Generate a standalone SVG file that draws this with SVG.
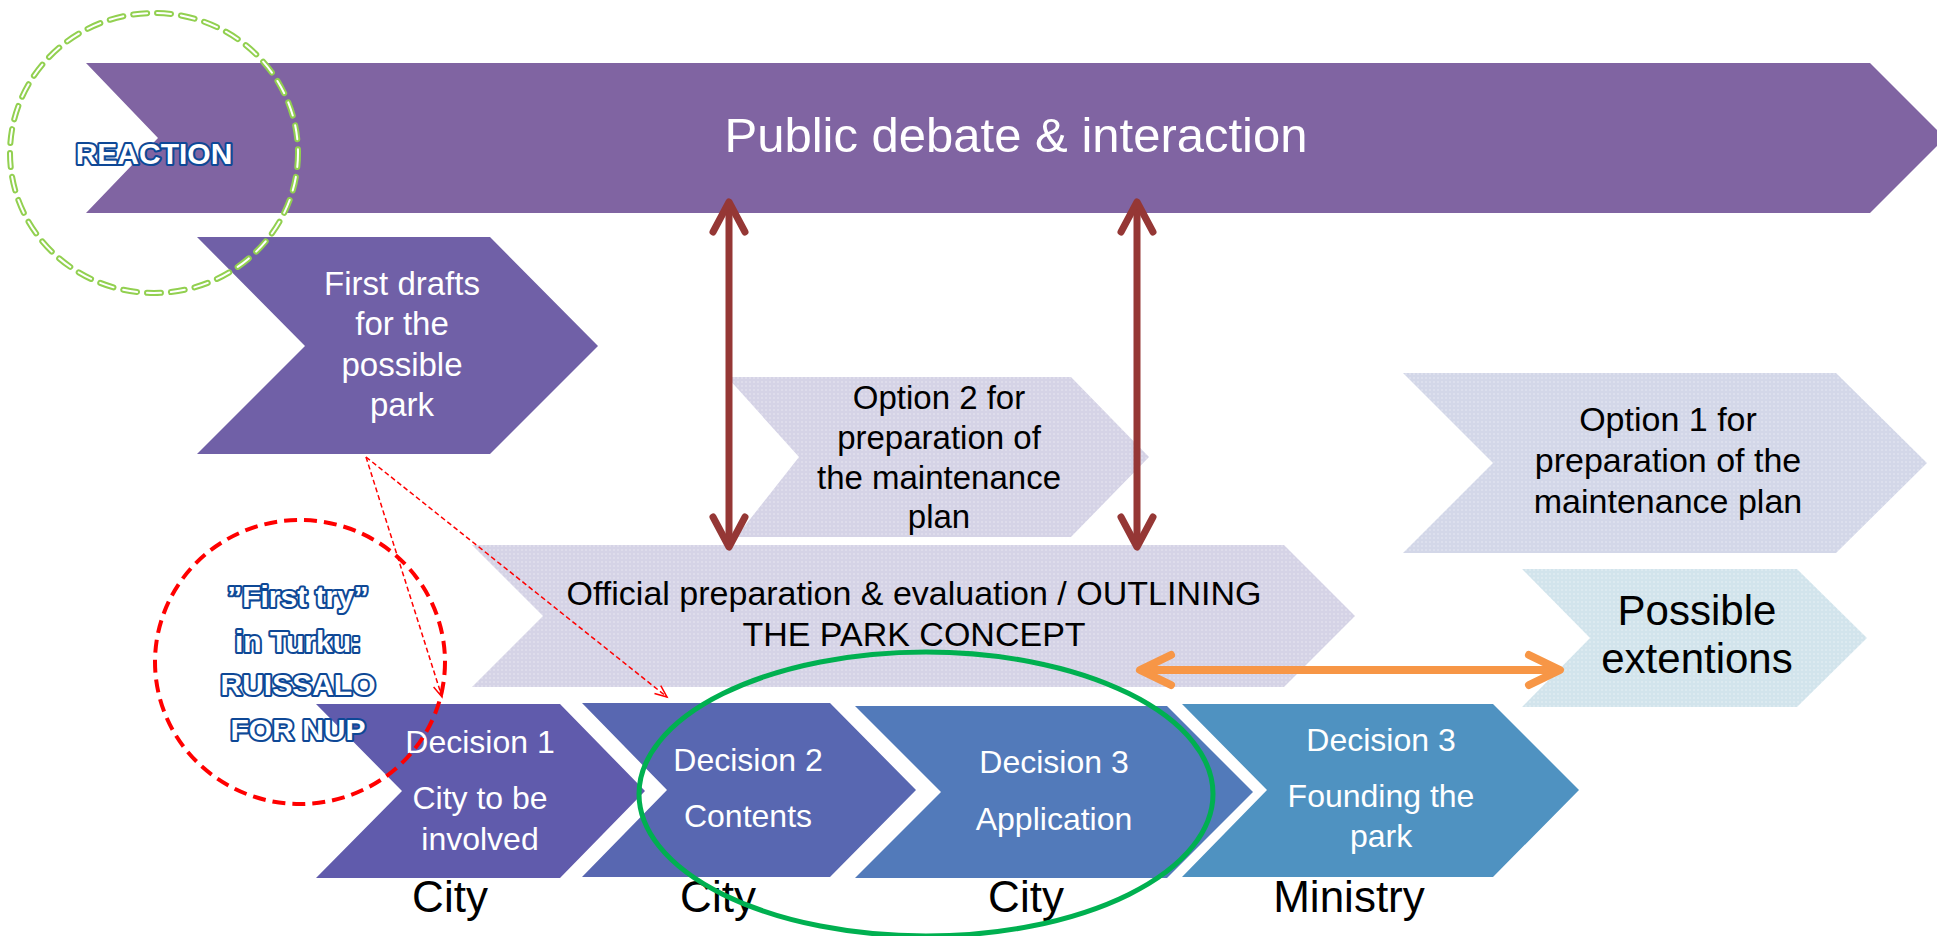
<svg xmlns="http://www.w3.org/2000/svg" width="1937" height="936" viewBox="0 0 1937 936">
<defs>
<style>
.t{font-family:"Liberation Sans",Arial,sans-serif;text-anchor:middle}
.w{fill:#FFFFFF}
.k{fill:#000000}
.o{font-family:"Liberation Sans",Arial,sans-serif;font-weight:bold;text-anchor:middle;fill:#FFFFFF;stroke:#0E4896;stroke-width:4.2;paint-order:stroke;stroke-linejoin:round}
.dr{stroke:#953735;stroke-width:7;fill:none}
.or{stroke:#F79646;stroke-width:8;fill:none}
.rd{stroke:#FF0000;stroke-width:1.5;fill:none;stroke-dasharray:5 3}
</style>
<pattern id="pLav" width="4" height="4" patternUnits="userSpaceOnUse"><rect width="4" height="4" fill="#D5D3E6"/><circle cx="2" cy="2" r="0.8" fill="#EAE9F3"/></pattern>
<pattern id="pBlu" width="4" height="4" patternUnits="userSpaceOnUse"><rect width="4" height="4" fill="#D3D7E8"/><circle cx="2" cy="2" r="0.8" fill="#E9EBF4"/></pattern>
<pattern id="pCya" width="4" height="4" patternUnits="userSpaceOnUse"><rect width="4" height="4" fill="#D2E4EC"/><circle cx="2" cy="2" r="0.8" fill="#E9F2F6"/></pattern>
<marker id="mDr" markerUnits="userSpaceOnUse" orient="auto-start-reverse" refX="0" refY="0" viewBox="-40 -25 50 50" markerWidth="50" markerHeight="50" overflow="visible">
<path d="M -30 -16 L 0 0 L -30 16" fill="none" stroke="#953735" stroke-width="7" stroke-linecap="round" stroke-linejoin="round"/>
</marker>
<marker id="mOr" markerUnits="userSpaceOnUse" orient="auto-start-reverse" refX="0" refY="0" viewBox="-40 -25 50 50" markerWidth="50" markerHeight="50" overflow="visible">
<path d="M -31 -15 L 0 0 L -31 15" fill="none" stroke="#F79646" stroke-width="8" stroke-linecap="round" stroke-linejoin="round"/>
</marker>
<marker id="mRd" markerUnits="userSpaceOnUse" orient="auto" refX="0" refY="0" viewBox="-15 -8 20 16" markerWidth="20" markerHeight="16" overflow="visible">
<path d="M -12 -5 L 0 0 L -12 5" fill="none" stroke="#FF0000" stroke-width="1.5"/>
</marker>
</defs>
<rect width="1937" height="936" fill="#FFFFFF"/>

<g id="public-debate">
<polygon points="86,63 1870,63 1945,138 1870,213 86,213 158,138" fill="#8064A2"/>
<text class="t w" x="1016" y="152" font-size="49">Public debate &amp; interaction</text>
</g>

<g id="first-drafts">
<polygon points="197,237 490,237 598,346 490,454 197,454 305,346" fill="#7060A7"/>
<text class="t w" font-size="33"><tspan x="402" y="295">First drafts</tspan><tspan x="402" y="335">for the</tspan><tspan x="402" y="376">possible</tspan><tspan x="402" y="416">park</tspan></text>
</g>

<g id="option-2">
<polygon points="727,377 1071,377 1149,457 1071,537 736,537 799,457" fill="url(#pLav)"/>
<text class="t k" font-size="33"><tspan x="939" y="409">Option 2 for</tspan><tspan x="939" y="449">preparation of</tspan><tspan x="939" y="489">the maintenance</tspan><tspan x="939" y="528">plan</tspan></text>
</g>

<g id="option-1">
<polygon points="1403,373 1836,373 1927,463 1836,553 1403,553 1493,463" fill="url(#pBlu)"/>
<text class="t k" font-size="34"><tspan x="1668" y="431">Option 1 for</tspan><tspan x="1668" y="472">preparation of the</tspan><tspan x="1668" y="513">maintenance plan</tspan></text>
</g>

<g id="official">
<polygon points="472,545 1284,545 1355,616 1284,687 472,687 543,616" fill="url(#pLav)"/>
<text class="t k" font-size="34"><tspan x="914" y="605">Official preparation &amp; evaluation / OUTLINING</tspan><tspan x="914" y="646">THE PARK CONCEPT</tspan></text>
</g>

<g id="possible-extentions">
<polygon points="1522,569 1797,569 1867,638 1797,707 1522,707 1590,638" fill="url(#pCya)"/>
<text class="t k" font-size="42"><tspan x="1697" y="625">Possible</tspan><tspan x="1697" y="673">extentions</tspan></text>
</g>

<g id="decision-1">
<polygon points="316,704 560,704 645,791 560,878 316,878 402,791" fill="#605BAC"/>
<text class="t w" font-size="32"><tspan x="480" y="753">Decision 1</tspan><tspan x="480" y="809">City to be</tspan><tspan x="480" y="850">involved</tspan></text>
<text class="t k" x="450" y="912" font-size="44">City</text>
</g>

<g id="decision-2">
<polygon points="582,703 830,703 916,790 830,877 582,877 667,790" fill="#5867B1"/>
<text class="t w" font-size="32"><tspan x="748" y="771">Decision 2</tspan><tspan x="748" y="827">Contents</tspan></text>
<text class="t k" x="718" y="912" font-size="44">City</text>
</g>

<g id="decision-3">
<polygon points="855,706 1167,706 1253,792 1167,878 855,878 941,792" fill="#527ABA"/>
<text class="t w" font-size="32"><tspan x="1054" y="773">Decision 3</tspan><tspan x="1054" y="830">Application</tspan></text>
<text class="t k" x="1026" y="912" font-size="44">City</text>
</g>

<g id="decision-founding">
<polygon points="1182,704 1493,704 1579,790 1493,877 1182,877 1267,790" fill="#4F92C1"/>
<text class="t w" font-size="32"><tspan x="1381" y="751">Decision 3</tspan><tspan x="1381" y="807">Founding the</tspan><tspan x="1381" y="847">park</tspan></text>
<text class="t k" x="1349" y="912" font-size="44">Ministry</text>
</g>

<g id="reaction">
<ellipse cx="154" cy="153" rx="144" ry="140" fill="none" stroke="#92D050" stroke-width="6" stroke-dasharray="14 10" stroke-linecap="round"/>
<ellipse cx="154" cy="153" rx="144" ry="140" fill="none" stroke="#FFFFFF" stroke-width="2" stroke-dasharray="14 10" stroke-linecap="round"/>
<text class="o" x="154" y="164" font-size="30">REACTION</text>
</g>

<g id="first-try">
<ellipse cx="300" cy="662" rx="145" ry="142" fill="none" stroke="#FF0000" stroke-width="4" stroke-dasharray="13 7"/>
<text class="o" font-size="30"><tspan x="298" y="607">”First try”</tspan><tspan x="298" y="652">in Turku:</tspan><tspan x="298" y="695">RUISSALO</tspan><tspan x="298" y="740">FOR NUP</tspan></text>
</g>

<g id="focus">
<ellipse cx="926" cy="794" rx="287" ry="142" fill="none" stroke="#00B050" stroke-width="5"/>
</g>

<g id="connectors">
<line class="dr" x1="729" y1="202" x2="729" y2="547" marker-start="url(#mDr)" marker-end="url(#mDr)"/>
<line class="dr" x1="1137" y1="202" x2="1137" y2="547" marker-start="url(#mDr)" marker-end="url(#mDr)"/>
<line class="or" x1="1140" y1="670" x2="1560" y2="670" marker-start="url(#mOr)" marker-end="url(#mOr)"/>
<line class="rd" x1="366" y1="457" x2="442" y2="697" marker-end="url(#mRd)"/>
<line class="rd" x1="366" y1="457" x2="667" y2="697" marker-end="url(#mRd)"/>
</g>
</svg>
